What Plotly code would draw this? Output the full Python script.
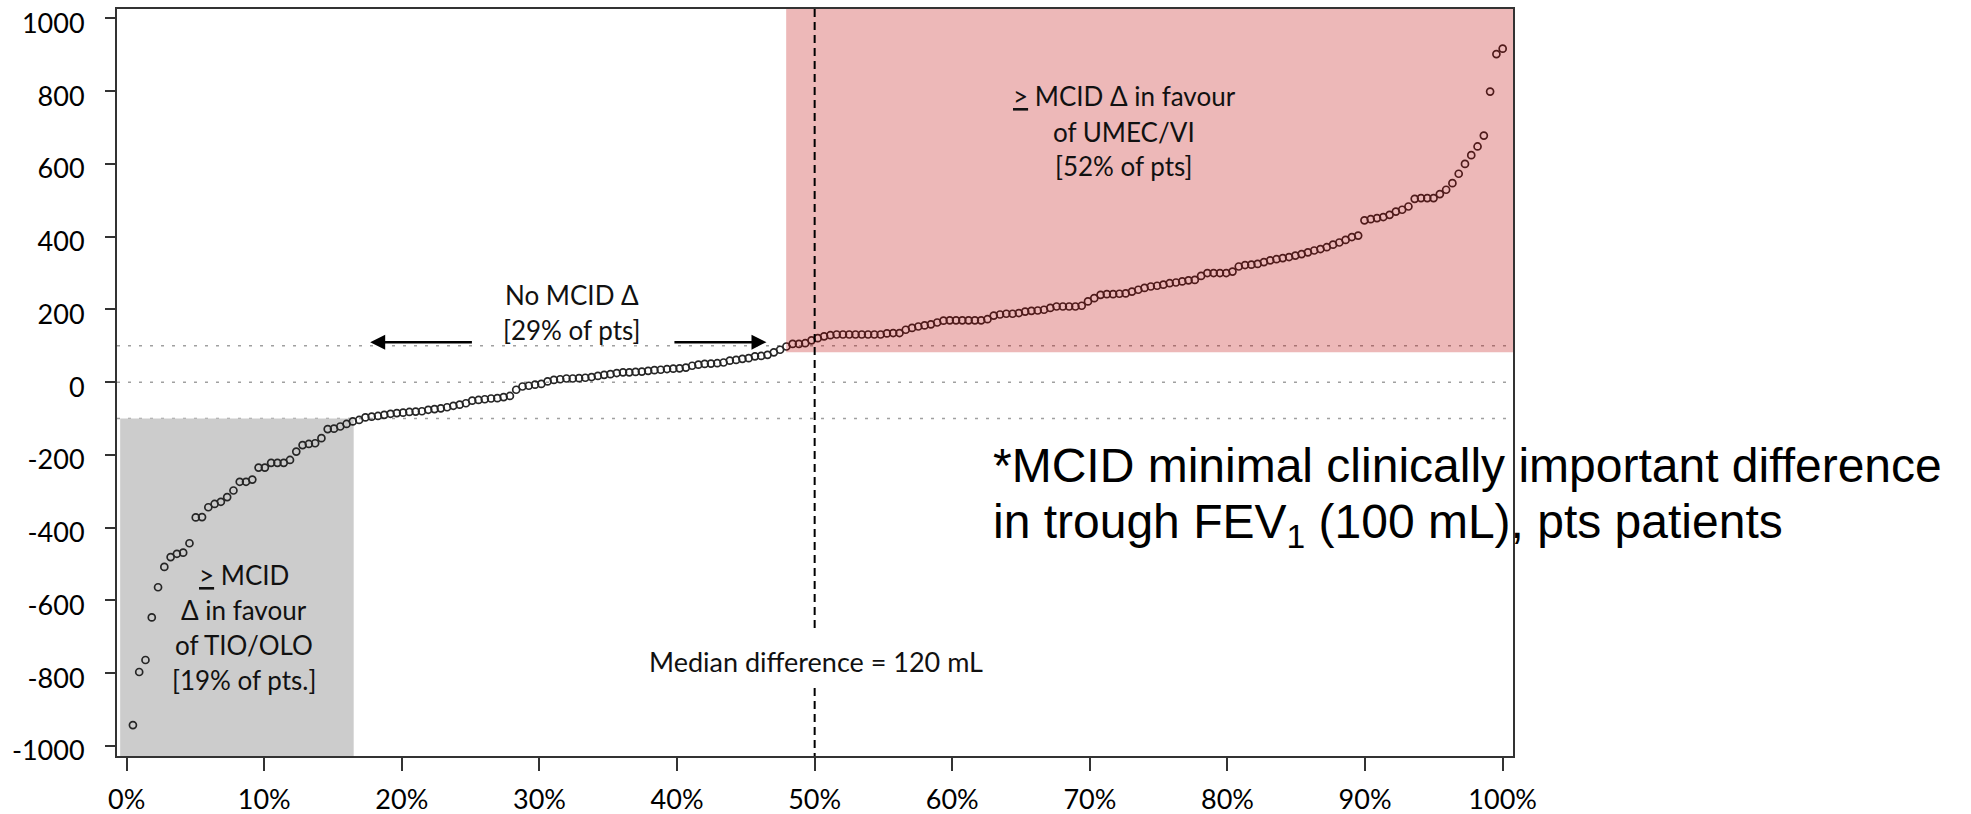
import plotly.graph_objects as go

# ---- data: per-patient difference in trough FEV1 (mL), sorted ----
favour_tio_olo = [-943, -797, -764, -647, -564, -508, -481, -472, -469, -443, -372, -371,
                  -344, -335, -329, -316, -298, -274, -274, -268, -235, -235, -222, -222,
                  -222, -214, -191, -173, -170, -168, -154, -129, -128, -122]
no_mcid_zone = [-115, -108, -104, -97, -95, -93, -90, -87, -85, -84, -82, -81, -80, -76, -74,
                -72, -69, -65, -62, -58, -51, -49, -47, -45, -44, -41, -38, -21, -12, -10, -7,
                -5, 2, 6, 8, 10, 10, 11, 12, 14, 17, 20, 22, 25, 27, 27, 28, 29, 31, 33, 34,
                36, 37, 38, 40, 45, 48, 50, 51, 52, 54, 59, 61, 64, 66, 71, 72, 75, 82, 89,
                98, 105, 105, 107]
favour_umec_vi_a = [115, 121, 126, 129, 131, 131, 131, 131, 131, 131, 131, 131, 134, 135, 135,
                    144, 149, 153, 156, 159, 164, 169, 170, 170, 170, 170, 170, 170, 173, 183,
                    186, 188, 188, 190, 194, 196, 197, 199, 204, 208, 208, 208, 208, 210, 222,
                    231, 240, 242, 242, 243, 244, 249, 254, 259, 263, 265, 268, 272, 274, 277,
                    280, 281, 292, 300, 300, 300, 300, 304, 318, 322, 323, 325]
favour_umec_vi_b = [330, 335, 338, 341, 344, 348, 352, 357, 362, 366, 371, 378, 384, 391, 399,
                    403, 445, 448, 451, 454, 460, 469, 474, 483, 504, 506, 506, 506, 517, 529,
                    547, 573, 600, 624, 648, 678, 799, 902, 917]

values = favour_tio_olo + no_mcid_zone + favour_umec_vi_a + favour_umec_vi_b
n = len(values)
percentile = [(i + 1) / n * 100 for i in range(n)]

x_ticks = list(range(0, 101, 10))
x_tick_labels = [f"{v}%" for v in x_ticks]
y_ticks = list(range(-1000, 1001, 200))
y_tick_labels = [str(v) for v in y_ticks]

X_RANGE = [-0.7, 100.75]
Y_RANGE = [-1028, 1026]
MCID = 100
MEDIAN_PCT = 50

TXT = dict(family="Lato, 'Open Sans', sans-serif", size=26, color="#111111")
FOOT = dict(family="'Liberation Sans', Arial, sans-serif", size=48, color="#000000")

fig = go.Figure()
fig.add_trace(go.Scatter(
    x=percentile, y=values, mode="markers",
    marker=dict(symbol="circle-open", size=7, color="#262626", line=dict(width=1.7)),
    showlegend=False, hoverinfo="skip"))

shapes = [
    dict(type="rect", xref="x", yref="y", x0=-0.47, x1=16.5, y0=Y_RANGE[0], y1=-MCID,
         fillcolor="#cccccc", line=dict(width=0), layer="below"),
]
for yv in (MCID, 0, -MCID):
    shapes.append(dict(type="line", xref="x domain", yref="y", x0=0, x1=1, y0=yv, y1=yv,
                       line=dict(color="#a0a0a0", width=1.5, dash="3px,8px"), layer="below"))
shapes.append(dict(type="rect", xref="x", yref="y", x0=47.93, x1=X_RANGE[1], y0=82, y1=Y_RANGE[1],
                   fillcolor="rgba(192,0,0,0.28)", line=dict(width=0), layer="above"))
for (ya, yb) in ((Y_RANGE[1], -687), (-841, Y_RANGE[0])):
    shapes.append(dict(type="line", xref="x", yref="y", x0=MEDIAN_PCT, x1=MEDIAN_PCT, y0=ya, y1=yb,
                       line=dict(color="#000000", width=2, dash="8px,5px"), layer="above"))

annotations = []
# arrows
for tip, tail in ((17.7, 25.2), (46.5, 39.7)):
    annotations.append(dict(x=tip, y=110, ax=tail, ay=110, xref="x", yref="y", axref="x", ayref="y",
                            text="", showarrow=True, arrowhead=2, arrowsize=1.2, arrowwidth=2.5,
                            arrowcolor="#000000", standoff=0, startstandoff=0))

def lines(xc, ys, texts, size=26):
    for yv, t in zip(ys, texts):
        annotations.append(dict(x=xc, y=yv, xref="x", yref="y", text=t, showarrow=False,
                                xanchor="center", yanchor="middle", font={**TXT, "size": size}))

lines(8.5, [-530, -626, -723, -819],
      ["<u>></u> MCID", "Δ in favour", "of TIO/OLO", "[19% of pts.]"])
lines(32.4, [240, 144], ["No MCID Δ", "[29% of pts]"])
lines(72.5, [786, 689, 593], ["<u>></u> MCID Δ in favour", "of UMEC/VI", "[52% of pts]"])
lines(50.1, [-769], ["Median difference = 120 mL"], size=27)

annotations.append(dict(x=62.85, y=-230, xref="x", yref="y", xanchor="left", yanchor="middle",
                        showarrow=False, font=FOOT,
                        text="*MCID minimal clinically important difference"))
annotations.append(dict(x=62.85, y=-392, xref="x", yref="y", xanchor="left", yanchor="middle",
                        showarrow=False, font=FOOT,
                        text="in trough FEV<sub>1</sub> (100 mL), pts patients"))

axis_common = dict(showline=True, linecolor="#333333", linewidth=2, mirror=True,
                   showgrid=False, zeroline=False, ticks="outside", tickcolor="#333333",
                   tickwidth=1.5, ticklabeloverflow="allow",
                   tickfont=dict(family="Lato, 'Open Sans', sans-serif", size=27, color="#000000"))

fig.update_layout(
    width=1971, height=814,
    margin=dict(l=117, r=458, t=9, b=58, autoexpand=False),
    paper_bgcolor="white", plot_bgcolor="white",
    xaxis=dict(range=X_RANGE, tickvals=x_ticks, ticktext=x_tick_labels, ticklen=13,
               ticklabelstandoff=6, **axis_common),
    yaxis=dict(range=Y_RANGE, tickvals=y_ticks, ticktext=y_tick_labels, ticklen=10,
               ticklabelstandoff=15, ticklabelshift=5, **axis_common),
    shapes=shapes, annotations=annotations,
)

fig.write_html("out.html")
